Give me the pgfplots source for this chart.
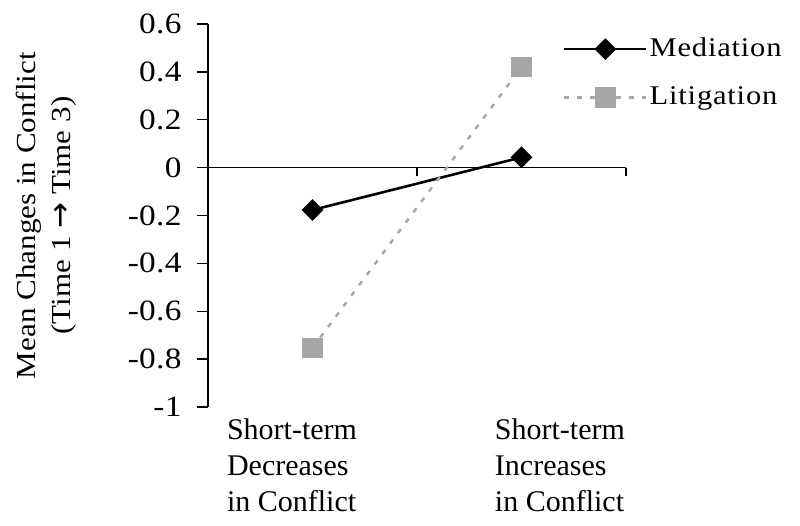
\documentclass[border=0pt]{standalone}
\usepackage{pgfplots}
\pgfplotsset{compat=1.18}
\usepackage{fontspec}
\setmainfont{Liberation Serif}
\newfontfamily\tickfont[FakeStretch=1.13,LetterSpace=1]{Liberation Serif}
\newfontfamily\legfont[FakeStretch=1.13,LetterSpace=3]{Liberation Serif}
\newfontfamily\labfont[FakeStretch=1.13]{Liberation Serif}
\newfontfamily\arrowfont{DejaVu Sans}
\usetikzlibrary{calc}
\definecolor{litgray}{HTML}{A6A6A6}
\begin{document}
\fontsize{28}{34}\selectfont
\begin{tikzpicture}
\begin{axis}[
  name=ax,
  scale only axis,
  width=418pt, height=383pt,
  xmin=0, xmax=2, ymin=-1, ymax=0.6,
  axis y line=left,
  axis x line=bottom,
  x axis line style={draw=none},
  y axis line style={-, line width=1.3pt},
  ytick={-1,-0.8,-0.6,-0.4,-0.2,0,0.2,0.4,0.6},
  yticklabels={-1,-0.8,-0.6,-0.4,-0.2,0,0.2,0.4,0.6},
  tick align=outside,
  major tick length=11pt,
  ytick style={line width=1.3pt, black},
  yticklabel style={xshift=-6pt, font=\tickfont\fontsize{29.5}{34}\selectfont},
  xtick={0.402,1.684},
  xticklabels={Short-term\\Decreases\\in Conflict, Short-term\\Increases\\in Conflict},
  xticklabel style={align=left, anchor=north, yshift=9pt, font=\fontsize{30}{36}\selectfont},
  xtick style={draw=none},
  ylabel={Mean Changes in Conflict\\(Time 1 {\arrowfont\fontsize{31}{35}\selectfont →} Time 3)},
  ylabel style={at={(axis description cs:-0.388,0.5)}, anchor=center, align=center, font=\labfont\fontsize{27.5}{35}\selectfont},
  legend style={draw=none, fill=none, at={(axis description cs:0.849,0.97)}, anchor=north west, row sep=22pt, inner sep=0pt, font=\legfont\fontsize{27}{30}\selectfont},
  legend cell align=left,
  legend image code/.code={\draw[mark repeat=2,mark phase=2,#1] plot coordinates {(0pt,0pt)(41pt,0pt)(82pt,0pt)};},
  clip=false,
]
\draw[line width=1.2pt] (axis cs:0,0) -- (axis cs:2,0);
\draw[line width=1.2pt] (axis cs:1,0) -- ([yshift=-8pt]axis cs:1,0);
\draw[line width=1.2pt] (axis cs:2,0) -- ([yshift=-8pt]axis cs:2,0);
\addplot[black, line width=2.6pt, mark=square*, mark size=6.4pt, mark options={rotate=45, solid}] coordinates {(0.5,-0.177) (1.5,0.043)};
\addlegendentry{Mediation}
\addplot[litgray, line width=2.4pt, dash pattern=on 5pt off 8pt, mark=square*, mark size=9pt, mark options={solid}] coordinates {(0.5,-0.753) (1.5,0.42)};
\addlegendentry{Litigation}
\end{axis}
\path[use as bounding box] ($(ax.south west)+(-208pt,-119pt)$) rectangle ($(ax.north east)+(174pt,24pt)$);
\end{tikzpicture}
\end{document}
